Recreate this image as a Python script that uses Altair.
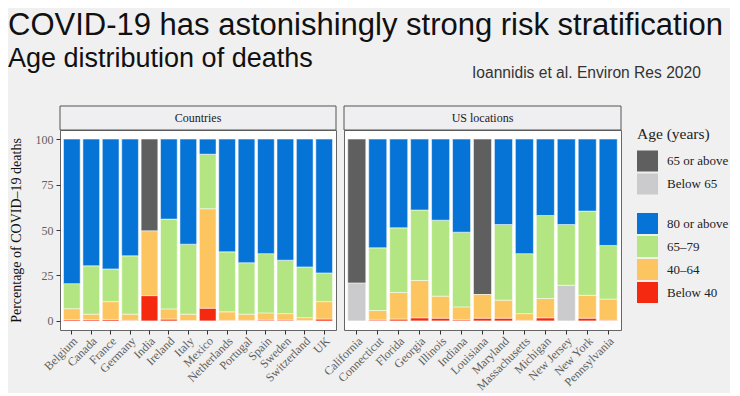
import altair as alt
import pandas as pd

SERIF = "Liberation Serif"
SANS = "Liberation Sans"

TITLE = "COVID-19 has astonishingly strong risk stratification"
SUBTITLE = "Age distribution of deaths"
CITATION = "Ioannidis et al. Environ Res 2020"
Y_TITLE = "Percentage of COVID\u201319 deaths"
PANEL_NAMES = ["Countries", "US locations"]
LEGEND_TITLE = "Age (years)"

STACK_ORDER = ["Below 40", "40\u201364", "Below 65", "65\u201379", "65 or above", "80 or above"]
GREY_DOMAIN = ["65 or above", "Below 65"]
GREY_RANGE = ["#5f5f5f", "#cbcbcd"]
AGE_DOMAIN = ["80 or above", "65\u201379", "40\u201364", "Below 40"]
AGE_RANGE = ["#0673d6", "#b3e683", "#fdc55f", "#f4290f"]

# ---- Countries ----
countries = ["Belgium", "Canada", "France", "Germany", "India", "Ireland", "Italy",
             "Mexico", "Netherlands", "Portugal", "Spain", "Sweden", "Switzerland", "UK"]
c_below40 = [0.7, 0.7, 0.8, 0.3, 13.9, 1.0, 0.2, 7.0, 0.3, 0.3, 0.5, 0.5, 0.2, 1.0]
c_40_64 = [6.0, 3.0, 9.8, 3.4, 35.6, 5.6, 3.5, 54.7, 4.7, 3.4, 3.9, 3.5, 1.6, 9.6]
c_65_79 = [13.8, 26.6, 18.0, 32.1, 0.0, 49.4, 38.5, 30.0, 33.0, 28.3, 32.6, 29.4, 27.9, 15.8]
c_80plus = [79.5, 69.7, 71.4, 64.2, 0.0, 44.0, 57.8, 8.3, 62.0, 68.0, 63.0, 66.6, 70.3, 73.6]
c_65plus = [0.0, 0.0, 0.0, 0.0, 50.5, 0.0, 0.0, 0.0, 0.0, 0.0, 0.0, 0.0, 0.0, 0.0]
c_below65 = [0.0, 0.0, 0.0, 0.0, 0.0, 0.0, 0.0, 0.0, 0.0, 0.0, 0.0, 0.0, 0.0, 0.0]

# ---- US locations ----
us_locs = ["California", "Connecticut", "Florida", "Georgia", "Illinois", "Indiana",
           "Louisiana", "Maryland", "Massachusetts", "Michigan", "New Jersey",
           "New York", "Pennsylvania"]
u_below40 = [0.0, 0.5, 1.0, 1.7, 1.5, 0.6, 1.5, 1.5, 0.3, 1.7, 0.0, 1.5, 0.3]
u_40_64 = [0.0, 5.2, 14.6, 20.5, 12.1, 7.1, 13.0, 9.9, 3.7, 10.6, 0.0, 12.6, 11.7]
u_65_79 = [0.0, 34.5, 35.6, 38.8, 41.8, 41.1, 0.0, 41.6, 33.0, 45.7, 33.4, 46.3, 29.5]
u_80plus = [0.0, 59.8, 48.8, 39.0, 44.6, 51.2, 0.0, 47.0, 63.0, 42.0, 47.0, 39.6, 58.5]
u_65plus = [79.1, 0.0, 0.0, 0.0, 0.0, 0.0, 85.5, 0.0, 0.0, 0.0, 0.0, 0.0, 0.0]
u_below65 = [20.9, 0.0, 0.0, 0.0, 0.0, 0.0, 0.0, 0.0, 0.0, 0.0, 19.6, 0.0, 0.0]


def long_table(locs, cols):
    rows = []
    for i, loc in enumerate(locs):
        base = 0.0
        for g in STACK_ORDER:
            v = cols[g][i]
            if v > 0:
                rows.append({"loc": loc, "group": g, "y0": base, "y1": base + v,
                             "kind": "grey" if g in GREY_DOMAIN else "age"})
                base += v
    return pd.DataFrame(rows)


df_c = long_table(countries, {"Below 40": c_below40, "40\u201364": c_40_64, "65\u201379": c_65_79,
                              "80 or above": c_80plus, "65 or above": c_65plus, "Below 65": c_below65})
df_u = long_table(us_locs, {"Below 40": u_below40, "40\u201364": u_40_64, "65\u201379": u_65_79,
                            "80 or above": u_80plus, "65 or above": u_65plus, "Below 65": u_below65})

PLOT_H = 200
STRIP_H = 24


def make_panel(df, cats, name, width, first):
    xenc = alt.X("loc:N", sort=cats,
                 scale=alt.Scale(domain=cats, paddingInner=0.14, paddingOuter=0.18),
                 axis=alt.Axis(title=None, labelAngle=-45, labelAlign="right", labelBaseline="top",
                               labelFont=SERIF, labelFontSize=12, labelColor="#5f5f5f",
                               tickColor="#333333", tickSize=4, domain=False, grid=False,
                               labelPadding=1))
    if first:
        yaxis = alt.Axis(values=[0, 25, 50, 75, 100], title=Y_TITLE, titleFont=SERIF,
                         titleFontSize=14, titleFontWeight="normal", titleColor="#111111",
                         titlePadding=12, labelFont=SERIF, labelFontSize=12,
                         labelColor="#5f5f5f", tickColor="#333333", tickSize=4,
                         labelPadding=3, domain=False, grid=False)
    else:
        yaxis = None
    yenc = alt.Y("y0:Q", scale=alt.Scale(domain=[-5, 105], nice=False, zero=False), axis=yaxis)

    if first:
        grey_leg = None
        age_leg = None
    else:
        grey_leg = alt.Legend(orient="none", legendX=width + 16, legendY=-3, title=LEGEND_TITLE,
                              titleFont=SERIF, titleFontSize=15.5, titleFontWeight="normal",
                              titleColor="#222222", titlePadding=8, labelFont=SERIF,
                              labelFontSize=13, labelColor="#222222", labelOffset=9,
                              symbolType="square", symbolSize=441, symbolStrokeWidth=0,
                              symbolOpacity=1, rowPadding=2, padding=0)
        age_leg = alt.Legend(orient="none", legendX=width + 16, legendY=83, title=None,
                             labelFont=SERIF, labelFontSize=13, labelColor="#222222",
                             labelOffset=9, symbolType="square", symbolSize=441,
                             symbolStrokeWidth=0, symbolOpacity=1, rowPadding=2, padding=0)

    grey = alt.Chart(df).transform_filter(alt.datum.kind == "grey").mark_bar(
        stroke="white", strokeWidth=0.5).encode(
        x=xenc, y=yenc, y2="y1:Q",
        color=alt.Color("group:N", scale=alt.Scale(domain=GREY_DOMAIN, range=GREY_RANGE),
                        legend=grey_leg))
    age = alt.Chart(df).transform_filter(alt.datum.kind == "age").mark_bar(
        stroke="white", strokeWidth=0.5).encode(
        x=xenc, y=yenc, y2="y1:Q",
        color=alt.Color("group:N", scale=alt.Scale(domain=AGE_DOMAIN, range=AGE_RANGE),
                        legend=age_leg))

    strip_df = pd.DataFrame({"label": [name]})
    strip_rect = alt.Chart(strip_df).mark_rect(fill="#efeef1", stroke="#555555", strokeWidth=1).encode(
        x=alt.value(0), x2=alt.value(width), y=alt.value(-STRIP_H), y2=alt.value(0))
    strip_text = alt.Chart(strip_df).mark_text(font=SERIF, fontSize=12, color="#1a1a1a").encode(
        text="label:N", x=alt.value(width / 2), y=alt.value(-STRIP_H / 2))

    return alt.layer(grey, age, strip_rect, strip_text).resolve_scale(color="independent").properties(
        width=width, height=PLOT_H,
        view=alt.ViewBackground(fill="white", stroke="#666666", strokeWidth=1))


panel_a = make_panel(df_c, countries, PANEL_NAMES[0], 276, True)
panel_b = make_panel(df_u, us_locs, PANEL_NAMES[1], 277, False)

panels = alt.hconcat(panel_a, panel_b, spacing=8, bounds="flush").resolve_scale(
    color="independent", x="independent", y="independent")

X0 = -52
title_t = alt.Chart(pd.DataFrame({"t": [TITLE]})).mark_text(
    align="left", baseline="alphabetic", font=SANS, fontSize=31, color="#111111").encode(
    text="t:N", x=alt.value(X0), y=alt.value(27))
sub_t = alt.Chart(pd.DataFrame({"t": [SUBTITLE]})).mark_text(
    align="left", baseline="alphabetic", font=SANS, fontSize=27, color="#111111").encode(
    text="t:N", x=alt.value(X0), y=alt.value(59))
cite_t = alt.Chart(pd.DataFrame({"t": [CITATION]})).mark_text(
    align="left", baseline="alphabetic", font=SANS, fontSize=15.6, color="#333333").encode(
    text="t:N", x=alt.value(X0 + 464), y=alt.value(70))

header = alt.layer(title_t, sub_t, cite_t).properties(
    width=500, height=97, view=alt.ViewBackground(fill="transparent", strokeWidth=0))

chart = alt.vconcat(header, panels, spacing=0).resolve_scale(color="independent").properties(
    padding={"left": 0, "top": 0, "right": 0, "bottom": 0}, background="#f0f0f0"
).configure_view(strokeWidth=0)

chart.save("out.html", embed_options={"renderer": "svg", "actions": False})
